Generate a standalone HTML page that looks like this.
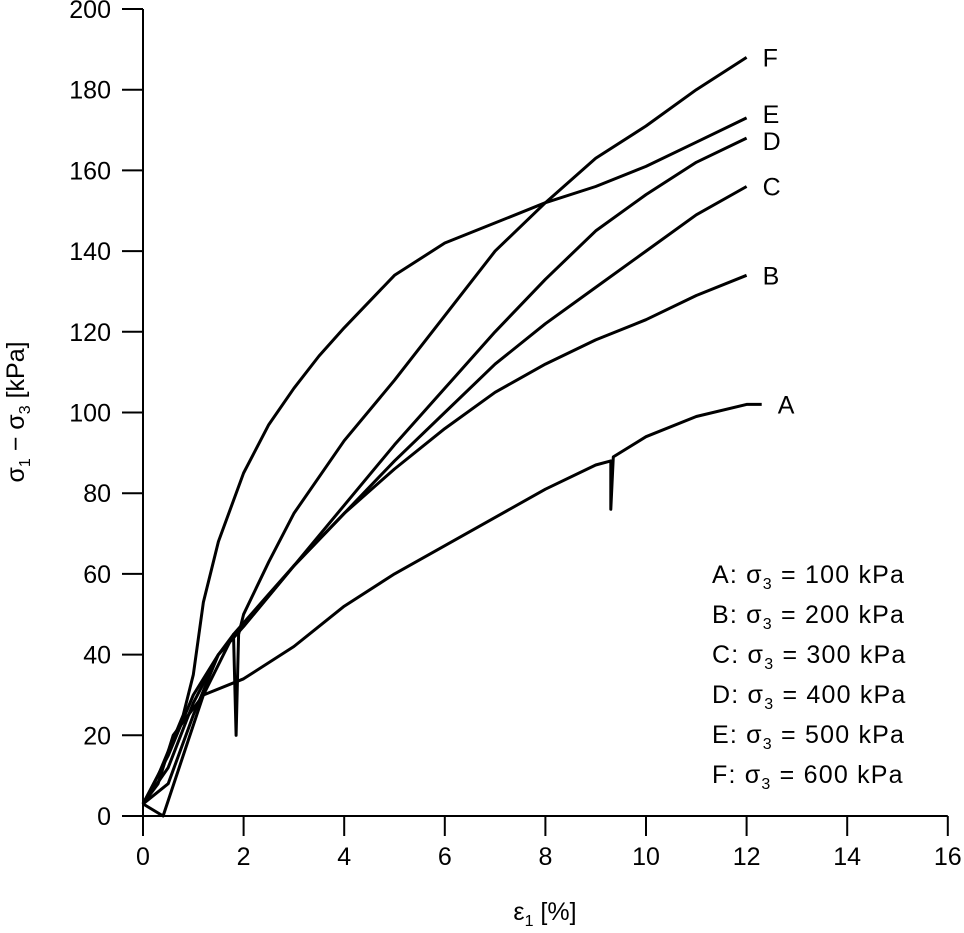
<!DOCTYPE html>
<html><head><meta charset="utf-8"><style>
body{margin:0;background:#fff;}
svg text{font-family:"Liberation Sans",Arial,sans-serif;fill:#000;}
</style></head><body>
<svg id="chart" width="964" height="928">
<g id="axes"></g><g id="series"></g>
<g font-size="25" letter-spacing="1.2">
<text x="712" y="583">A: σ<tspan font-size="16" dy="6">3</tspan><tspan dy="-6"> = 100 kPa</tspan></text>
<text x="712" y="623">B: σ<tspan font-size="16" dy="6">3</tspan><tspan dy="-6"> = 200 kPa</tspan></text>
<text x="712" y="663">C: σ<tspan font-size="16" dy="6">3</tspan><tspan dy="-6"> = 300 kPa</tspan></text>
<text x="712" y="703">D: σ<tspan font-size="16" dy="6">3</tspan><tspan dy="-6"> = 400 kPa</tspan></text>
<text x="712" y="743">E: σ<tspan font-size="16" dy="6">3</tspan><tspan dy="-6"> = 500 kPa</tspan></text>
<text x="712" y="783">F: σ<tspan font-size="16" dy="6">3</tspan><tspan dy="-6"> = 600 kPa</tspan></text>
</g>
<text x="545" y="920" font-size="25" text-anchor="middle">ε<tspan font-size="16" dy="6">1</tspan><tspan dy="-6"> [%]</tspan></text>
<text transform="translate(24,412) rotate(-90)" font-size="25" text-anchor="middle">σ<tspan font-size="16" dy="6">1</tspan><tspan dy="-6"> − σ</tspan><tspan font-size="16" dy="6">3</tspan><tspan dy="-6"> [kPa]</tspan></text>
</svg>
<script>
const xTicks=[0,2,4,6,8,10,12,14,16];
const yTicks=[0,20,40,60,80,100,120,140,160,180,200];
const seriesNames=["A","B","C","D","E","F"];
const strainA=[0,0.3,0.6,1.2,2,3,4,5,6,7,8,9,9.3,9.3,9.35,10,11,12,12.3];
const stressA=[3,8,20,30,34,42,52,60,67,74,81,87,88,76,89,94,99,102,102];
const strainB=[0,0.5,1,1.5,2,3,4,5,6,7,8,9,10,11,12];
const stressB=[3,15,30,40,47,62,75,86,96,105,112,118,123,129,134];
const strainC=[0,0.5,1,1.5,2,3,4,5,6,7,8,9,10,11,12];
const stressC=[3,12,28,40,47,62,75,88,100,112,122,131,140,149,156];
const strainD=[0,0.4,0.8,1.2,1.8,2.5,3,4,5,6,7,8,9,10,11,12];
const stressD=[3,0,15,30,45,55,62,77,92,106,120,133,145,154,162,168];
const strainE=[0,0.3,0.8,1,1.2,1.5,2,2.5,3,3.5,4,5,6,7,8,9,10,11,12];
const stressE=[3,10,25,35,53,68,85,97,106,114,121,134,142,147,152,156,161,167,173];
const strainF=[0,0.5,1,1.5,1.8,1.85,1.9,2,2.5,3,4,5,6,7,8,9,10,11,12];
const stressF=[3,8,25,40,45,20,45,50,63,75,93,108,124,140,152,163,171,180,188];
const X=v=>143+v*50.3, Y=v=>816-v*4.035;
const NS="http://www.w3.org/2000/svg";
const ax=document.getElementById('axes'), sg=document.getElementById('series');
function mk(tag,at,p){const e=document.createElementNS(NS,tag);for(const k in at)e.setAttribute(k,at[k]);p.appendChild(e);return e;}
const xl=mk('line',{x1:X(0),y1:Y(0),x2:X(16),y2:Y(0),stroke:'#000','stroke-width':2},ax);


const yl=mk('line',{x1:X(0),y1:Y(0),x2:X(0),y2:Y(200),stroke:'#000','stroke-width':2},ax);


xTicks.forEach(t=>{mk('line',{x1:X(t),y1:816,x2:X(t),y2:836,stroke:'#000','stroke-width':2},ax);
const tx=mk('text',{x:X(t),y:865,'font-size':25,'text-anchor':'middle'},ax);tx.textContent=t;

});
yTicks.forEach(t=>{mk('line',{x1:122,y1:Y(t),x2:X(0),y2:Y(t),stroke:'#000','stroke-width':2},ax);
const tx=mk('text',{x:111,y:Y(t)+9,'font-size':25,'text-anchor':'end'},ax);tx.textContent=t;

});
const xs=[strainA,strainB,strainC,strainD,strainE,strainF], ys=[stressA,stressB,stressC,stressD,stressE,stressF];
const labelDy=[0,0,0,3,-4,0];
seriesNames.forEach((n,i)=>{
const d=xs[i].map((x,j)=>(j?'L':'M')+X(x).toFixed(1)+','+Y(ys[i][j]).toFixed(1)).join(' ');
const p=mk('path',{d:d,fill:'none',stroke:'#000','stroke-width':3,'stroke-linejoin':'round'},sg);


const lx=xs[i][xs[i].length-1], ly=ys[i][ys[i].length-1];
const t=mk('text',{x:X(lx)+16,y:Y(ly)+9+labelDy[i],'font-size':25},sg);t.textContent=n;


});
</script>
</body></html>
